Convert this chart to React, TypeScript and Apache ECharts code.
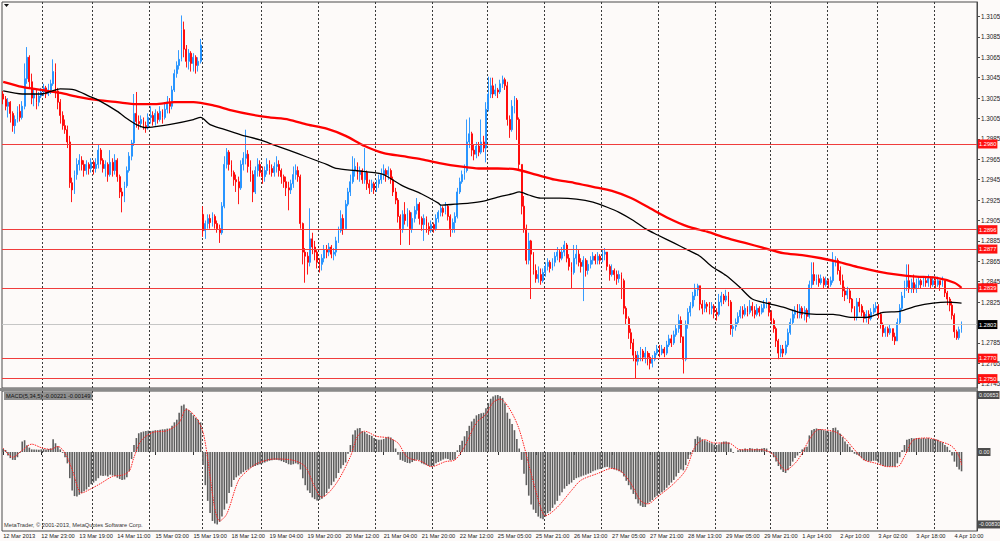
import React, { useEffect, useRef } from "react";
import * as echarts from "echarts";

// ---------- data (prices stored as pips above BASE) ----------
const BASE = 1.27;
const PIP = 0.0001;
const SLOTS = 410; // bar slots on the time axis (includes right-side shift)

const X_LABELS = [
  "12 Mar 2013", "12 Mar 23:00", "13 Mar 19:00", "14 Mar 11:00", "15 Mar 03:00",
  "15 Mar 19:00", "18 Mar 12:00", "19 Mar 04:00", "19 Mar 20:00", "20 Mar 12:00",
  "21 Mar 04:00", "21 Mar 20:00", "22 Mar 12:00", "25 Mar 05:00", "25 Mar 21:00",
  "26 Mar 13:00", "27 Mar 05:00", "27 Mar 21:00", "28 Mar 13:00", "29 Mar 05:00",
  "29 Mar 21:00", "1 Apr 14:00", "2 Apr 10:00", "3 Apr 02:00", "3 Apr 18:00",
  "4 Apr 10:00",
];
const LABEL_STEP = 16;
const DAY_SEPARATORS = [17, 38, 62, 84, 109, 133, 157, 181, 204, 228, 252, 276, 300, 323, 347, 368, 392];

const PRICE_TICKS = [
  1.2745, 1.2765, 1.2785, 1.2805, 1.2825, 1.2845, 1.2865, 1.2885, 1.2905, 1.2925,
  1.2945, 1.2965, 1.2985, 1.3005, 1.3025, 1.3045, 1.3065, 1.3085, 1.3105,
];
// 1.2805 sits under the bid label, so it has no visible text
const PRICE_LABELS = [
  1.2745, 1.2765, 1.2785, 1.2825, 1.2845, 1.2865, 1.2885, 1.2905, 1.2925,
  1.2945, 1.2965, 1.2985, 1.3005, 1.3025, 1.3045, 1.3065, 1.3085, 1.3105,
];
const RED_LEVELS = [1.298, 1.2896, 1.2877, 1.2839, 1.277, 1.275];
const BID = 1.2803;

const FIRST_OPEN = 329;
const GAP_OPENS: Record<number, number> = { 84: 211 };

const CLOSE = [
  324,317,321,310,298,304,312,306,317,344,365,341,325,329,321,327,
  331,335,329,333,339,351,332,321,308,298,294,282,242,235,250,260,
  264,260,254,260,256,262,256,260,274,264,256,260,250,262,254,264,
  248,233,229,239,254,268,281,310,302,300,304,298,296,306,308,302,
  310,304,312,306,314,321,317,333,349,357,363,392,373,361,369,359,
  365,357,361,377,195,202,207,203,209,202,197,193,219,260,272,260,
  252,245,243,237,260,266,270,258,250,233,254,260,252,248,254,260,
  256,252,258,260,254,248,243,237,235,241,250,254,248,202,174,170,
  164,187,179,174,164,162,168,176,174,179,172,174,185,195,207,197,
  221,233,243,254,258,250,254,245,252,241,237,241,235,241,245,250,
  254,250,254,245,233,225,209,197,211,205,213,197,207,215,221,207,
  201,207,199,195,201,197,207,213,217,213,219,209,197,203,209,233,
  243,250,254,282,290,274,270,278,272,282,276,314,329,337,329,333,
  331,339,343,337,304,294,317,323,304,260,219,197,166,185,172,156,
  148,152,146,154,160,164,158,164,170,174,168,174,181,168,160,154,
  168,172,164,160,166,156,162,166,170,166,170,166,172,174,160,152,
  156,152,148,152,146,119,109,95,85,73,67,73,77,71,75,71,
  65,69,75,79,75,79,75,83,89,85,93,99,107,91,69,103,
  115,121,131,137,141,123,119,123,121,119,121,115,113,125,131,127,
  131,125,99,101,105,111,117,113,119,115,121,117,113,119,115,119,
  123,125,115,107,99,87,75,79,75,83,95,105,113,117,113,119,
  113,117,111,142,152,146,148,144,148,142,146,142,146,164,166,156,
  146,136,132,136,128,119,111,125,121,115,109,113,109,115,119,121,
  113,103,95,99,95,99,91,87,105,119,131,140,146,138,144,138,
  142,146,142,146,144,148,142,146,142,146,142,146,134,128,122,112,
  96,90,98,103,
];
const HIGH = [
  332,327,325,322,312,308,317,319,322,359,375,367,349,334,333,331,
  335,339,337,339,343,363,359,335,324,312,304,298,288,247,254,266,
  270,268,264,264,262,266,264,266,280,276,266,264,262,274,266,270,
  266,250,237,243,258,272,284,329,331,308,308,306,302,310,317,312,
  314,312,317,314,321,327,325,337,353,361,372,406,400,377,373,371,
  369,367,365,383,219,205,211,211,213,211,205,201,223,268,276,274,
  264,254,250,248,264,272,294,274,264,254,258,266,264,258,258,266,
  264,260,262,268,264,256,250,248,243,245,258,260,258,250,203,178,
  174,217,193,185,176,168,172,181,181,183,181,178,189,199,215,211,
  225,237,250,268,266,262,258,256,276,254,245,245,243,245,250,256,
  260,256,258,256,248,237,227,211,215,223,217,215,213,219,227,223,
  209,211,209,203,205,203,211,215,221,219,223,221,211,207,213,237,
  247,254,260,304,306,292,280,282,282,304,288,321,346,345,345,339,
  335,343,347,345,341,308,323,327,325,306,260,229,201,193,186,174,
  162,160,158,158,164,168,166,168,174,179,176,179,185,183,172,164,
  181,181,176,168,170,168,166,170,174,172,174,172,176,178,174,162,
  162,158,156,156,154,148,121,111,99,89,77,77,81,79,81,77,
  75,73,77,83,83,83,81,87,93,93,97,103,113,111,91,107,
  119,125,135,143,143,139,127,127,125,125,125,123,119,133,135,133,
  137,135,127,103,109,115,121,121,123,121,127,125,121,123,121,123,
  127,129,125,117,109,101,89,83,83,87,99,109,117,121,123,123,
  121,121,119,146,164,164,152,152,152,150,150,148,150,174,170,168,
  160,152,140,140,138,129,121,129,129,123,117,117,117,119,123,125,
  123,115,105,101,101,103,99,95,109,123,135,146,162,162,148,152,
  148,150,148,150,150,152,150,150,148,150,146,150,146,136,130,126,
  114,98,101,106,
];
const LOW = [
  319,313,306,301,292,290,301,302,304,314,339,335,319,317,314,317,
  325,327,325,327,329,337,325,314,300,294,290,276,237,223,231,245,
  254,254,248,250,250,252,250,252,256,260,252,248,243,248,248,250,
  243,227,213,223,237,252,264,278,296,294,296,294,291,294,300,298,
  298,300,302,300,304,310,310,314,331,345,353,361,365,355,353,351,
  351,349,351,359,189,187,197,197,199,197,193,183,191,217,256,254,
  248,239,233,221,235,254,260,252,243,223,231,248,248,241,243,250,
  250,248,248,252,248,241,237,229,215,231,237,245,243,197,162,144,
  152,160,172,166,158,154,156,164,168,170,168,166,170,183,193,191,
  203,219,229,241,248,245,243,241,241,235,231,233,231,233,237,241,
  245,243,245,241,229,221,203,181,193,201,199,181,193,203,211,201,
  195,185,193,191,193,193,195,203,209,209,211,205,189,193,193,207,
  231,241,245,252,276,268,264,266,268,270,272,262,312,325,325,327,
  325,329,335,333,298,286,292,310,284,254,211,193,162,162,128,152,
  144,144,142,144,150,156,154,156,160,166,164,166,170,164,156,138,
  152,162,160,154,126,150,152,158,162,162,162,162,164,166,156,146,
  150,146,142,144,128,113,103,89,79,67,50,63,67,67,65,63,
  59,61,67,73,71,73,71,73,81,81,83,91,95,85,55,67,
  99,111,119,127,131,117,113,115,115,113,113,109,107,111,121,123,
  125,121,93,91,97,103,109,109,111,111,113,111,109,111,111,113,
  115,119,111,103,95,81,69,71,71,73,81,93,103,109,109,109,
  109,107,105,109,138,142,142,140,142,138,140,138,140,144,160,152,
  142,130,126,128,124,115,107,107,115,111,105,105,103,107,113,115,
  109,99,91,91,91,93,87,83,87,103,117,129,136,134,134,134,
  134,138,138,140,140,140,138,140,138,140,136,140,130,122,116,108,
  90,88,88,95,
];

// moving averages read at sample bars: [barIndex, pips]
const MA_RED = [
  [0,341],[8,336],[16,333],[24,330],[32,326],[40,323],[48,321],[56,319],[64,319],[72,321],
  [80,321],[88,318],[96,313],[104,309],[112,306],[120,304],[128,299],[136,295],[144,288],[152,278],
  [160,271],[168,268],[176,265],[184,261],[192,258],[200,256],[208,256],[216,255],[224,250],[232,245],
  [240,242],[248,238],[256,234],[264,227],[272,217],[280,207],[288,199],[296,194],[304,188],[312,183],
  [320,178],[328,173],[336,171],[344,168],[352,164],[360,159],[368,155],[376,152],[384,150],[392,149],
  [400,144],[403,139],
];
const MA_BLACK = [
  [0,332],[8,329],[16,329],[24,334],[30,333],[36,327],[40,323],[48,312],[52,305],[56,299],
  [60,296],[64,297],[72,300],[80,304],[83,306],[87,299],[92,295],[100,289],[108,284],[114,279],
  [120,274],[128,267],[136,260],[140,256],[148,254],[156,252],[160,250],[168,239],[176,231],[183,222],
  [184,220],[190,221],[196,222],[202,224],[208,228],[214,231],[217,233],[221,230],[226,227],[234,227],
  [241,226],[248,223],[254,218],[259,213],[265,205],[270,197],[275,191],[282,183],[288,176],[293,170],
  [298,160],[304,151],[310,139],[315,128],[321,124],[328,120],[335,115],[342,113],[349,113],[357,110],
  [363,110],[370,115],[377,116],[384,121],[391,124],[397,125],[403,124],
];

// MACD(5,34,5) histogram, units of 0.00001
const MACD_HIST = [
  34,23,-40,-70,-90,-92,-60,-10,120,135,78,50,30,30,28,26,
  30,34,28,34,42,145,100,66,30,-10,-60,-130,-300,-440,-505,-510,
  -490,-470,-450,-430,-400,-370,-350,-330,-300,-270,-275,-270,-280,-260,-270,-275,
  -295,-310,-320,-315,-290,-220,-80,80,160,215,225,235,240,245,240,245,
  250,250,255,260,262,268,270,300,340,370,450,530,545,500,480,450,
  420,390,370,340,-150,-380,-560,-700,-790,-820,-830,-800,-740,-660,-590,-470,
  -400,-320,-290,-270,-250,-230,-210,-200,-180,-170,-160,-150,-140,-130,-120,-110,
  -100,-95,-90,-90,-95,-105,-115,-125,-140,-145,-140,-130,-140,-200,-300,-380,
  -440,-470,-520,-540,-556,-550,-535,-510,-470,-420,-380,-340,-300,-240,-190,-150,
  -120,-20,80,200,250,270,275,240,230,210,195,185,160,145,140,142,
  150,165,175,165,140,40,-30,-90,-100,-115,-125,-130,-115,-100,-90,-95,
  -130,-140,-150,-160,-165,-160,-130,-115,-100,-85,-75,-80,-95,-90,-85,20,
  80,130,180,240,300,350,380,420,435,445,450,500,560,610,635,650,
  653,640,620,560,450,380,320,250,150,40,-90,-250,-380,-500,-600,-660,
  -700,-740,-760,-770,-740,-700,-680,-640,-600,-560,-500,-460,-420,-390,-370,-350,
  -320,-300,-290,-280,-270,-260,-250,-240,-220,-210,-200,-195,-185,-175,-170,-180,
  -190,-200,-210,-220,-235,-280,-330,-380,-430,-480,-540,-590,-615,-630,-630,-590,
  -570,-550,-520,-500,-480,-460,-440,-410,-380,-350,-320,-280,-240,-200,-210,-150,
  -80,-30,20,150,180,165,145,135,120,110,100,85,80,90,110,120,
  120,110,40,-10,0,20,30,30,40,35,45,40,35,40,35,40,
  45,40,10,-20,-60,-110,-160,-200,-230,-240,-210,-160,-110,-70,-40,-10,
  30,50,60,190,250,265,270,265,260,250,245,235,235,275,280,250,
  210,170,120,90,60,20,-20,-30,-45,-70,-95,-100,-110,-105,-100,-100,
  -120,-145,-160,-165,-168,-165,-168,-165,-130,-60,20,80,140,150,160,155,
  160,160,155,160,155,160,150,150,145,140,120,110,80,60,20,-40,
  -110,-170,-200,-221,
];
// signal line read at sample bars: [barIndex, value in 0.00001]
const MACD_SIGNAL = [
  [0,45],[4,-60],[8,20],[12,90],[16,50],[20,30],[23,64],[26,-13],[29,-200],[33,-470],
  [37,-420],[41,-360],[46,-280],[50,-265],[53,-220],[55,-60],[58,130],[63,225],[69,245],[74,336],
  [77,490],[81,400],[84,230],[86,-80],[89,-650],[91,-790],[94,-711],[99,-323],[103,-207],[107,-129],
  [114,-80],[122,-95],[127,-168],[131,-401],[134,-517],[140,-362],[146,-52],[149,180],[152,238],[157,180],
  [162,161],[166,103],[170,-60],[176,-110],[180,-168],[186,-110],[190,-90],[194,64],[199,336],[203,432],
  [206,568],[209,607],[213,491],[217,258],[222,-246],[226,-633],[228,-730],[233,-633],[239,-440],[243,-323],
  [250,-246],[256,-188],[260,-226],[264,-362],[268,-556],[271,-595],[275,-517],[282,-362],[287,-207],[291,64],
  [295,142],[299,103],[305,103],[310,26],[319,26],[324,-32],[329,-207],[333,-129],[336,-13],[339,142],
  [343,258],[349,238],[353,180],[358,26],[362,-90],[367,-129],[372,-168],[376,-168],[379,-52],[383,142],
  [389,161],[394,122],[399,64],[402,-52],[403,-149],
];
const MACD_AXIS_LABELS = [0.00653, 0, -0.0083];

// ---------- styling ----------
const BG = "#fdfaf9";
const FONT = "'Liberation Sans', Arial, sans-serif";
const FS = 6.3;
const FS_X = 5.7;
const FS_BOX = 5.7;
const Y_MIN = 1.27408;
const Y_MAX = 1.31192;
const M_MIN = -0.00905;
const M_MAX = 0.00699;

const toPrice = (p: number) => +(BASE + p * PIP).toFixed(5);

export default function App() {
  const ref = useRef<HTMLDivElement>(null);

  useEffect(() => {
    const el = ref.current;
    if (!el) return;
    const chart = echarts.init(el, undefined, { renderer: "svg", width: 1000, height: 541 });

    const cats = Array.from({ length: SLOTS }, (_, i) => String(i));
    const daySet = new Set(DAY_SEPARATORS);
    const candles = CLOSE.map((c, i) => {
      const o = i === 0 ? FIRST_OPEN : GAP_OPENS[i] ?? CLOSE[i - 1];
      const h = Math.max(HIGH[i], o, c);
      const l = Math.min(LOW[i], o, c);
      return [toPrice(o), toPrice(c), toPrice(l), toPrice(h)];
    });
    const maRed = MA_RED.map(([i, p]) => [i, toPrice(p)]);
    const maBlack = MA_BLACK.map(([i, p]) => [i, toPrice(p)]);
    const hist = MACD_HIST.map((v) => v * 1e-5);
    const signal = MACD_SIGNAL.map(([i, v]) => [i, v * 1e-5]);
    const lastHist = (MACD_HIST[MACD_HIST.length - 1] * 1e-5).toFixed(5);
    const lastSig = (MACD_SIGNAL[MACD_SIGNAL.length - 1][1] * 1e-5).toFixed(5);

    const labelEvery = (i: number) => i % LABEL_STEP === 0 && i / LABEL_STEP < X_LABELS.length;
    const sepLine = {
      show: true,
      interval: (i: number) => daySet.has(i),
      lineStyle: { color: "#3a3a3a", type: [2, 2] as any, width: 1 },
    };
    const levelLabel = {
      show: true, position: "end", distance: 1, color: "#ffffff", fontSize: FS_BOX, fontFamily: FONT,
      padding: [2, 1, 1, 1], formatter: (p: any) => Number(p.value).toFixed(4),
    };

    const option: any = {
      animation: false,
      backgroundColor: BG,
      textStyle: { fontFamily: FONT },
      grid: [
        { left: 2, right: 23, top: 2, height: 386, show: true, borderColor: "#4a4a4a", borderWidth: 1, containLabel: false, outerBoundsMode: "none" },
        { left: 2, right: 23, top: 391, height: 140, show: true, borderColor: "#4a4a4a", borderWidth: 1, containLabel: false, outerBoundsMode: "none" },
      ],
      xAxis: [
        {
          type: "category", gridIndex: 0, data: cats, boundaryGap: true,
          axisLine: { show: false }, axisTick: { show: false }, axisLabel: { show: false },
          splitLine: sepLine,
        },
        {
          type: "category", gridIndex: 1, data: cats, boundaryGap: true, position: "bottom",
          axisLine: { show: false },
          axisTick: { show: true, alignWithLabel: true, interval: labelEvery, length: 3, lineStyle: { color: "#333" } },
          axisLabel: {
            show: true, interval: labelEvery, align: "left", margin: 2,
            formatter: (_v: string, i: number) => X_LABELS[i / LABEL_STEP],
            fontSize: FS_X, color: "#222", fontFamily: FONT,
          },
          splitLine: sepLine,
        },
      ],
      yAxis: [
        {
          type: "value", gridIndex: 0, position: "right", min: Y_MIN, max: Y_MAX,
          axisLine: { show: true, lineStyle: { color: "#4a4a4a" } },
          axisTick: { show: true, customValues: PRICE_TICKS, length: 3, lineStyle: { color: "#4a4a4a" } },
          axisLabel: {
            customValues: PRICE_LABELS, formatter: (v: number) => v.toFixed(4), margin: 4,
            fontSize: FS, color: "#222", fontFamily: FONT,
          },
          splitLine: { show: false },
        },
        {
          type: "value", gridIndex: 1, position: "right", min: M_MIN, max: M_MAX,
          axisLine: { show: true, lineStyle: { color: "#4a4a4a" } },
          axisTick: { show: false },
          axisLabel: {
            customValues: MACD_AXIS_LABELS,
            formatter: (v: number) => (Math.abs(v) < 1e-12 ? "0.00" : v.toFixed(5)),
            margin: 1, fontSize: 5.4, color: "#f2f2f2", fontFamily: FONT,
            backgroundColor: "#4d4d4d", padding: [2, 1, 1, 1],
          },
          splitLine: { show: false },
        },
      ],
      series: [
        {
          type: "candlestick", xAxisIndex: 0, yAxisIndex: 0, data: candles, barWidth: 1.4,
          itemStyle: { color: "#1e90ff", color0: "#ff0000", borderColor: "#1e90ff", borderColor0: "#ff0000", borderWidth: 0.9 },
          markLine: {
            silent: true, symbol: ["none", "none"], animation: false, precision: 4,
            lineStyle: { color: "#f03c3c", width: 1, type: "solid", opacity: 1 },
            label: { ...levelLabel, backgroundColor: "#ff1010" },
            data: RED_LEVELS.map((v) => ({ yAxis: v })),
          },
        },
        {
          type: "line", xAxisIndex: 0, yAxisIndex: 0, data: maRed, showSymbol: false, smooth: 0.25,
          lineStyle: { color: "#ff0000", width: 2.3 }, silent: true,
        },
        {
          type: "line", xAxisIndex: 0, yAxisIndex: 0, data: maBlack, showSymbol: false, smooth: 0.25,
          lineStyle: { color: "#000000", width: 1.3 }, silent: true,
          markLine: {
            silent: true, symbol: ["none", "none"], animation: false, precision: 4,
            lineStyle: { color: "#c6c6c6", width: 1, type: "solid", opacity: 1 },
            label: { ...levelLabel, backgroundColor: "#000000" },
            data: [{ yAxis: BID }],
          },
        },
        {
          type: "bar", xAxisIndex: 1, yAxisIndex: 1, data: hist, barWidth: 1.6,
          itemStyle: { color: "#5e5e5e" }, silent: true,
        },
        {
          type: "line", xAxisIndex: 1, yAxisIndex: 1, data: signal, showSymbol: false, smooth: 0.3,
          lineStyle: { color: "#ff2020", width: 1, type: [1.5, 1] }, silent: true,
        },
      ],
      graphic: [
        { type: "rect", silent: true, shape: { x: 0, y: 388, width: 978, height: 3 }, style: { fill: "#8a8a8a" } },
        { type: "polygon", silent: true, shape: { points: [[4, 4], [9, 4], [6.5, 7]] }, style: { fill: "#111" } },
        {
          type: "text", left: 4, top: 392, silent: true,
          style: {
            text: `MACD(5,34,5) ${lastHist} ${lastSig}`, fontSize: FS_BOX, fontFamily: FONT,
            fill: "#111", backgroundColor: "#8f8f8f", padding: [1, 2, 1, 2],
          },
        },
        {
          type: "text", left: 4, top: 522, silent: true,
          style: { text: "MetaTrader, © 2001-2013, MetaQuotes Software Corp.", fontSize: FS_BOX, fontFamily: FONT, fill: "#333" },
        },
      ],
    };

    chart.setOption(option);
    return () => chart.dispose();
  }, []);

  return (
    <div
      ref={ref}
      style={{ position: "fixed", left: 0, top: 0, width: 1000, height: 541, background: BG }}
    />
  );
}
